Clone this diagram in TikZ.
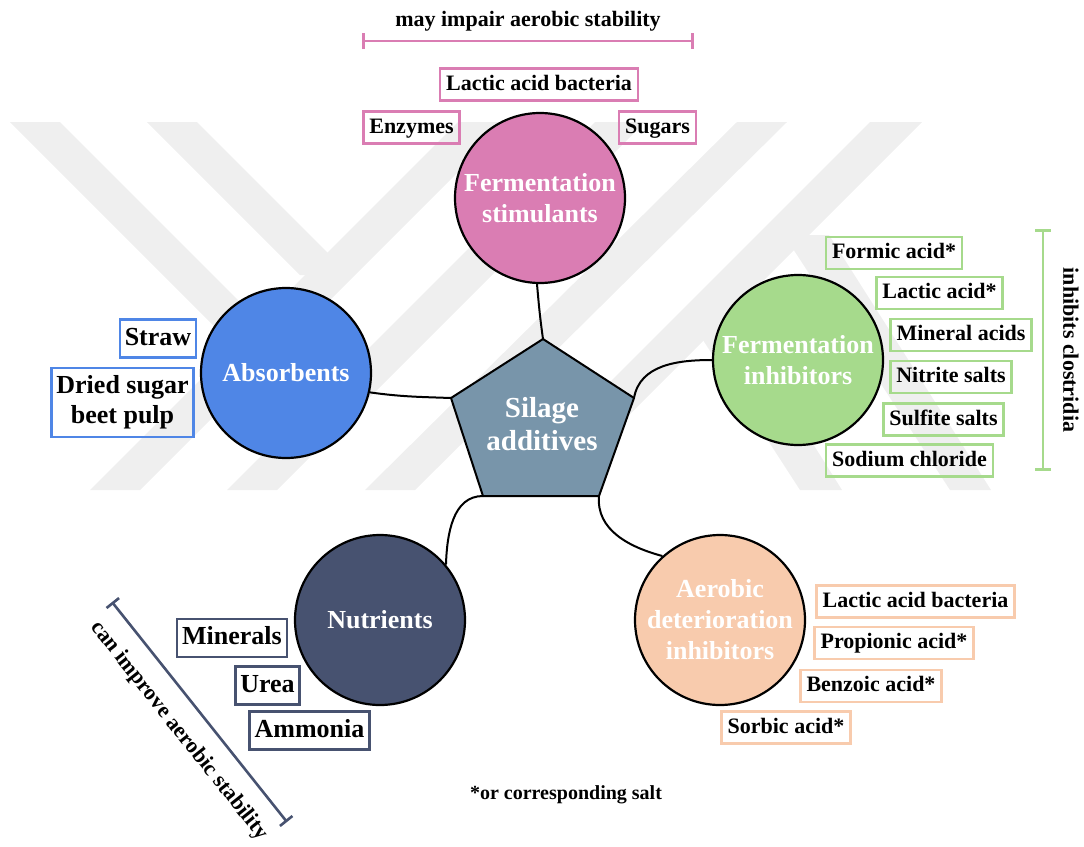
\documentclass[tikz,border=0pt]{standalone}
\usepackage{fontspec}
\setmainfont{Liberation Serif}
\usepackage{tikz}
\usetikzlibrary{arrows.meta}

\definecolor{stimpink}{HTML}{DA7DB3}
\definecolor{absblue}{HTML}{4F86E6}
\definecolor{inhgreen}{HTML}{A6DA8C}
\definecolor{aerpeach}{HTML}{F8CBAD}
\definecolor{nutnavy}{HTML}{475270}
\definecolor{coreblue}{HTML}{7895AA}
\definecolor{wmgray}{HTML}{EFEFEF}

\begin{document}
\begin{tikzpicture}[x=1pt, y=-1pt,
    hub/.style={draw, circle, line width=2.2pt, minimum size=170pt, inner sep=0pt, text=white, align=center, font=\bfseries\fontsize{26}{31}\selectfont},
    item/.style={draw, line width=2.4pt, inner xsep=6pt, inner ysep=5.5pt, text height=16pt, text depth=5pt, font=\bfseries\fontsize{22}{26}\selectfont},
    bigitem/.style={draw, line width=2.4pt, inner xsep=5pt, inner ysep=6.5pt, text height=19pt, text depth=6pt, font=\bfseries\fontsize{26}{30}\selectfont},
    link/.style={line width=2pt},
    span/.style={line width=2.6pt, {Bar[width=16pt]}-{Bar[width=16pt]}},
    note/.style={font=\bfseries\fontsize{22}{26}\selectfont}]
    \useasboundingbox (0,0) rectangle (1084,846);

    \fill [wmgray] (10,122) -- (60,122) -- (352,414) -- (302,414) -- cycle;
    \fill [wmgray] (147,122) -- (197,122) -- (350,275) -- (300,275) -- cycle;
    \fill [wmgray] (90,490) -- (140,490) -- (508,122) -- (458,122) -- cycle;
    \fill [wmgray] (227,490) -- (277,490) -- (645,122) -- (595,122) -- cycle;
    \fill [wmgray] (365,490) -- (415,490) -- (787,122) -- (737,122) -- cycle;
    \fill [wmgray] (502,490) -- (554,490) -- (922,122) -- (870,122) -- cycle;
    \fill [wmgray] (690,320) -- (735,320) -- (842,490) -- (800,490) -- cycle;
    \fill [wmgray] (784,235) -- (829,235) -- (991,490) -- (950,490) -- cycle;

    \coordinate (ptop) at (543,339);
    \coordinate (pul) at (451,398);
    \coordinate (pll) at (483,496);
    \coordinate (plr) at (599,496);
    \coordinate (pur) at (634,398);
    \draw [fill=coreblue, line width=2pt, line join=round] (ptop) -- (pul) -- (pll) -- (plr) -- (pur) -- cycle;
    \node [text=white, align=center, font=\bfseries\fontsize{29}{33}\selectfont] (core) at (542,424) {Silage\\additives};

    \node [hub, fill=stimpink] (stim) at (540,198) {Fermentation\\stimulants};
    \node [hub, fill=absblue] (absorb) at (286,373) {Absorbents};
    \node [hub, fill=inhgreen] (finh) at (798,360) {Fermentation\\inhibitors};
    \node [hub, fill=aerpeach] (adi) at (720,620) {Aerobic\\deterioration\\inhibitors};
    \node [hub, fill=nutnavy] (nutr) at (380,620) {Nutrients};

    \draw [link] (ptop) to [out=98, in=-85] (stim.-92);
    \draw [link] (absorb.-13) to [out=-8, in=178] (pul);
    \draw [link] (pur) to [out=80, in=180] (finh.west);
    \draw [link] (plr) to [out=-95, in=165] (adi.132);
    \draw [link] (pll) to [out=180, in=88] (nutr.40);

    \node [item, draw=stimpink] (lab1) at (539,84.5) {Lactic acid bacteria};
    \node [item, draw=stimpink] (enz) at (411.5,127.5) {Enzymes};
    \node [item, draw=stimpink] (sug) at (657.5,127.5) {Sugars};

    \node [bigitem, draw=absblue] (straw) at (158,338.5) {Straw};
    \node [draw=absblue, line width=2.4pt, align=center, inner xsep=5pt, minimum height=69pt, font=\bfseries\fontsize{26}{30}\selectfont] (pulp) at (122.5,402.5) {Dried sugar\\beet pulp};

    \node [item, draw=inhgreen] (formic) at (894,253) {Formic acid*};
    \node [item, draw=inhgreen] (lactic) at (939.5,293) {Lactic acid*};
    \node [item, draw=inhgreen] (mineral) at (961,335) {Mineral acids};
    \node [item, draw=inhgreen] (nitrite) at (951,377) {Nitrite salts};
    \node [item, draw=inhgreen] (sulfite) at (943.5,419.5) {Sulfite salts};
    \node [item, draw=inhgreen] (sodium) at (909.5,460.5) {Sodium chloride};

    \node [item, draw=aerpeach] (lab2) at (915.5,601.5) {Lactic acid bacteria};
    \node [item, draw=aerpeach] (propionic) at (894,643) {Propionic acid*};
    \node [item, draw=aerpeach] (benzoic) at (871,686) {Benzoic acid*};
    \node [item, draw=aerpeach] (sorbic) at (786,727.5) {Sorbic acid*};

    \node [bigitem, draw=nutnavy] (minerals) at (232,638) {Minerals};
    \node [bigitem, draw=nutnavy] (urea) at (267.5,685.5) {Urea};
    \node [bigitem, draw=nutnavy] (ammonia) at (309.5,730.5) {Ammonia};

    \coordinate (impairL) at (362,41);
    \coordinate (impairR) at (694,41);
    \coordinate (clostT) at (1043,229);
    \coordinate (clostB) at (1043,471);
    \coordinate (improveT) at (112,602);
    \coordinate (improveB) at (287,822);
    \draw [span, stimpink] (impairL) -- (impairR);
    \draw [span, inhgreen] (clostT) -- (clostB);
    \draw [span, nutnavy] (improveT) -- (improveB);

    \node [note] (impair) at (528,21) {may impair aerobic stability};
    \node [note, rotate=-90] (clost) at (1071,350) {inhibits clostridia};
    \node [note, rotate=-51.5] (improve) at (179,731) {can improve aerobic stability};
    \node [font=\bfseries\fontsize{20}{24}\selectfont] (salt) at (566,795) {*or corresponding salt};
\end{tikzpicture}
\end{document}
